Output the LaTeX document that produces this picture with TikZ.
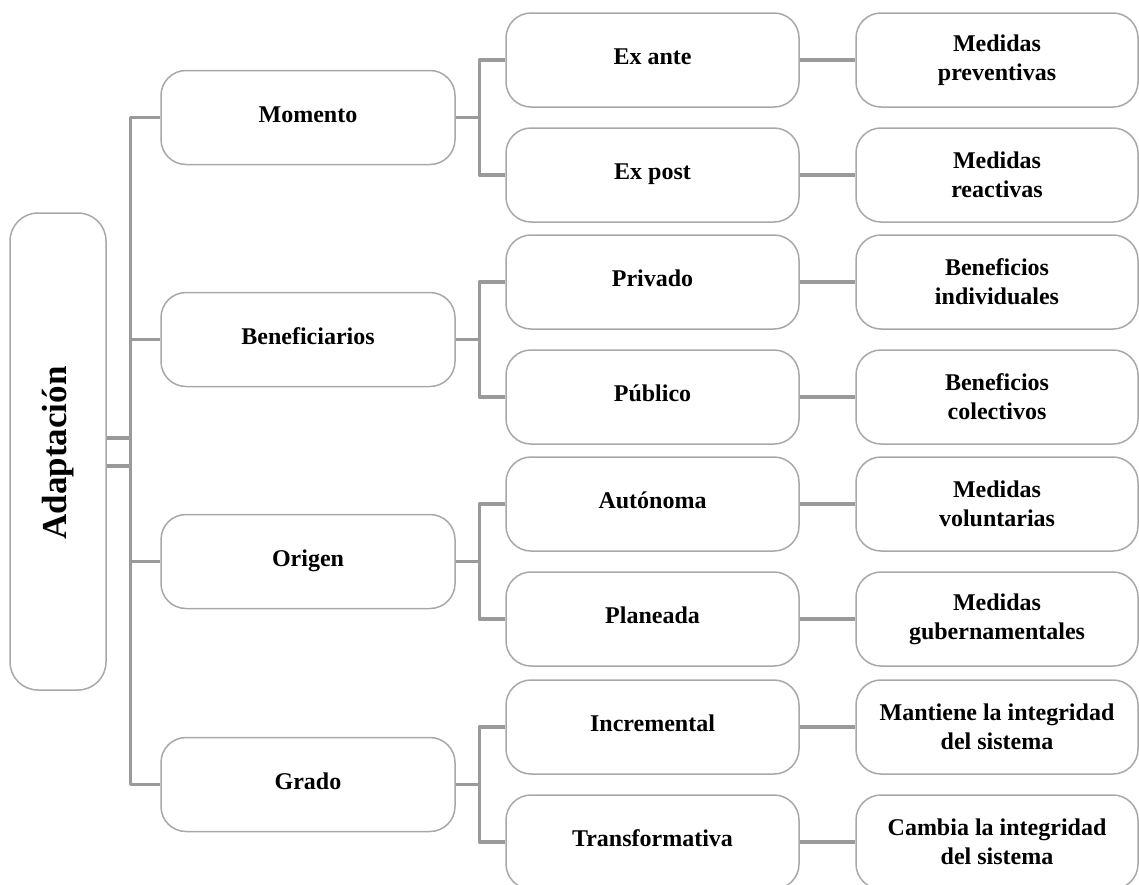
\documentclass[tikz,border=0pt]{standalone}
\usepackage{fontspec}
\setmainfont{Liberation Serif}
\begin{document}
\begin{tikzpicture}[x=1pt,y=-1pt,
  box/.style={draw=boxgray, line width=1.5pt, rounded corners=25pt, fill=white,
    minimum height=94pt, inner sep=0pt, align=center,
    font=\fontsize{24}{29}\selectfont\bfseries},
  oneline/.style={text height=17pt, text depth=8pt},
  lvltwo/.style={box, oneline, minimum width=294pt},
  lvlthree/.style={box, oneline, minimum width=293pt},
  leaf/.style={box, minimum width=282pt},
  link/.style={draw=linkgray, line width=3.2pt, line join=round}]
\definecolor{boxgray}{HTML}{A8A8A8}
\definecolor{linkgray}{HTML}{9A9A9A}
\useasboundingbox (0,0) rectangle (1139,884);
\clip (0,0) rectangle (1139,884);

% root
\node[box, minimum width=96pt, minimum height=477pt, rounded corners=28pt]
  (root) at (58,451.5) {};
\node[rotate=90, font=\fontsize{35}{40}\selectfont\bfseries] (roottxt) at (58,453) {Adaptación};

% second level
\node[lvltwo] (mom) at (308,117.5) {Momento};
\node[lvltwo] (ben) at (308,339.5) {Beneficiarios};
\node[lvltwo] (ori) at (308,561.5) {Origen};
\node[lvltwo] (gra) at (308,784.5) {Grado};

% third level
\node[lvlthree] (exa) at (652.5,60)  {Ex ante};
\node[lvlthree] (exp) at (652.5,175) {Ex post};
\node[lvlthree] (pri) at (652.5,282) {Privado};
\node[lvlthree] (pub) at (652.5,397) {Público};
\node[lvlthree] (aut) at (652.5,504) {Autónoma};
\node[lvlthree] (pla) at (652.5,619) {Planeada};
\node[lvlthree] (inc) at (652.5,727) {Incremental};
\node[lvlthree] (tra) at (652.5,842) {Transformativa};

% leaves
\node[leaf] (l1) at (997,60)  {Medidas\\preventivas};
\node[leaf] (l2) at (997,175) {Medidas\\reactivas};
\node[leaf] (l3) at (997,282) {Beneficios\\individuales};
\node[leaf] (l4) at (997,397) {Beneficios\\colectivos};
\node[leaf] (l5) at (997,504) {Medidas\\voluntarias};
\node[leaf] (l6) at (997,619) {Medidas\\gubernamentales};
\node[leaf] (l7) at (997,727) {Mantiene la integridad\\del sistema};
\node[leaf] (l8) at (997,842) {Cambia la integridad\\del sistema};

% root brackets
\draw[link] ([yshift=-14.5pt]root.east) -- ++(24,0) |- (mom.west);
\draw[link] (ben.west) -- ++(-31,0);
\draw[link] ([yshift=13.5pt]root.east) -- ++(24,0) |- (gra.west);
\draw[link] (ori.west) -- ++(-31,0);

% second-level brackets
\foreach \p/\a/\b in {mom/exa/exp, ben/pri/pub, ori/aut/pla, gra/inc/tra}{
  \draw[link] (\p.east) -- ++(25,0);
  \draw[link] (\a.west) -- ++(-26,0) |- (\b.west);
}

% third level to leaves
\foreach \a/\b in {exa/l1, exp/l2, pri/l3, pub/l4, aut/l5, pla/l6, inc/l7, tra/l8}{
  \draw[link] (\a.east) -- (\b.west);
}
\end{tikzpicture}
\end{document}
